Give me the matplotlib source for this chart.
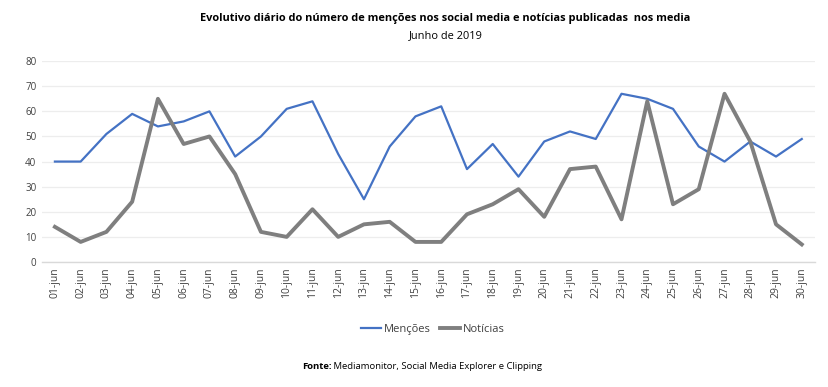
import matplotlib
matplotlib.use("Agg")
import matplotlib.pyplot as plt

days = [f"{d:02d}-jun" for d in range(1, 31)]
mencoes = [40, 40, 51, 59, 54, 56, 60, 42, 50, 61, 64, 43, 25, 46, 58, 62, 37, 47, 34, 48,
           52, 49, 67, 65, 61, 46, 40, 48, 42, 49]
noticias = [14, 8, 12, 24, 65, 47, 50, 35, 12, 10, 21, 10, 15, 16, 8, 8, 19, 23, 29, 18,
            37, 38, 17, 64, 23, 29, 67, 48, 15, 7]
yticks = [0, 10, 20, 30, 40, 50, 60, 70, 80]

plt.rcParams['font.family'] = ['Open Sans', 'DejaVu Sans']

fig = plt.figure(figsize=(8.29, 3.87), dpi=100)
ax = fig.add_axes([0.0507, 0.323, 0.932, 0.519])
x = list(range(len(days)))
ax.plot(x, mencoes, color='#4472C4', lw=1.6, label='Menções', solid_joinstyle='round')
ax.plot(x, noticias, color='#7F7F7F', lw=2.8, label='Notícias', solid_joinstyle='round')
ax.set_xlim(-0.5, len(days) - 0.5)
ax.set_ylim(0, 80)
ax.set_yticks(yticks)
ax.set_yticklabels([str(v) for v in yticks], fontsize=7, color='#404040')
ax.set_xticks(x)
ax.set_xticklabels(days, rotation=90, fontsize=7.5, color='#404040')
ax.tick_params(axis='both', length=0, pad=4)
ax.grid(axis='y', color='#EDEDED', lw=0.9)
ax.set_axisbelow(True)
for s in ['top', 'right', 'left']:
    ax.spines[s].set_visible(False)
ax.spines['bottom'].set_color('#D9D9D9')
ax.spines['bottom'].set_linewidth(1.0)

fig.text(0.537, 0.953, 'Evolutivo diário do número de menções nos social media e notícias publicadas  nos media',
         ha='center', va='center', fontsize=7.9, fontweight='bold', color='#000000')
fig.text(0.538, 0.908, 'Junho de 2019', ha='center', va='center', fontsize=7.9, color='#000000')

leg = fig.legend(loc='center', bbox_to_anchor=(0.522, 0.148), ncol=2, frameon=False,
                 fontsize=8, handlelength=1.8, columnspacing=0.8, handletextpad=0.3)
for t in leg.get_texts():
    t.set_color('#404040')

# Source line: bold "Fonte:" + regular remainder, centred as a whole
renderer = fig.canvas.get_renderer()
t1 = fig.text(0, 0.054, 'Fonte:', ha='left', va='center', fontsize=6.8, fontweight='bold')
t2 = fig.text(0, 0.054, ' Mediamonitor, Social Media Explorer e Clipping', ha='left', va='center',
              fontsize=6.8)
w1 = t1.get_window_extent(renderer).width / fig.bbox.width
w2 = t2.get_window_extent(renderer).width / fig.bbox.width
start = 0.509 - (w1 + w2) / 2
t1.set_x(start)
t2.set_x(start + w1)

fig.savefig('out.png', dpi=100)
